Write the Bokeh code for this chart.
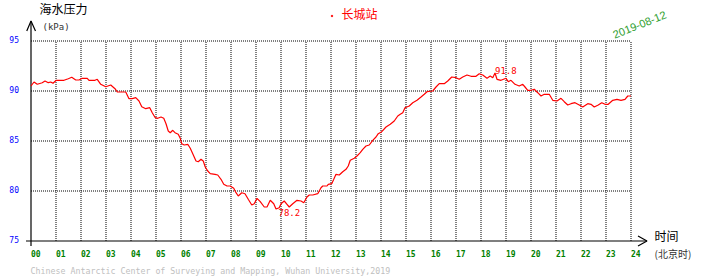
from bokeh.plotting import figure
from bokeh.models import Range1d, Label
from bokeh.core.properties import value
from bokeh.embed import file_html
from bokeh.resources import INLINE

# ---- data ----
hours = [0.0, 0.12, 0.25, 0.45, 0.56, 0.69, 0.79, 0.88, 1.01, 1.32, 1.49, 1.63, 1.79, 1.92,
         2.05, 2.25, 2.32, 2.56, 2.65, 2.79, 2.99, 3.19, 3.36, 3.45, 3.79, 3.92, 4.05, 4.19,
         4.32, 4.43, 4.59, 4.75, 4.85, 4.97, 5.07, 5.2, 5.31, 5.4, 5.49, 5.57, 5.67, 5.76,
         5.89, 5.97, 6.03, 6.13, 6.27, 6.37, 6.47, 6.6, 6.69, 6.8, 6.89, 6.97, 7.07, 7.17,
         7.36, 7.47, 7.6, 7.71, 7.84, 7.97, 8.11, 8.2, 8.29, 8.43, 8.56, 8.69, 8.83, 8.93,
         9.04, 9.17, 9.33, 9.44, 9.57, 9.71, 9.8, 9.93, 10.0, 10.13, 10.24, 10.33, 10.47,
         10.64, 10.8, 10.91, 11.04, 11.13, 11.27, 11.47, 11.6, 11.67, 11.84, 11.89, 12.03,
         12.11, 12.2, 12.33, 12.47, 12.6, 12.69, 12.77, 12.93, 13.04, 13.17, 13.27, 13.4,
         13.53, 13.67, 13.8, 13.89, 14.03, 14.2, 14.37, 14.53, 14.67, 14.77, 14.87, 14.96,
         15.13, 15.27, 15.44, 15.6, 15.73, 15.84, 16.07, 16.2, 16.33, 16.53, 16.67, 16.83,
         17.0, 17.13, 17.27, 17.44, 17.6, 17.8, 17.93, 18.07, 18.24, 18.37, 18.47, 18.56,
         18.64, 18.8, 19.0, 19.09, 19.2, 19.36, 19.53, 19.67, 19.76, 19.87, 20.0, 20.13,
         20.27, 20.4, 20.53, 20.73, 20.87, 21.04, 21.2, 21.33, 21.47, 21.6, 21.76, 21.93,
         22.07, 22.27, 22.4, 22.53, 22.69, 22.83, 22.96, 23.09, 23.27, 23.44, 23.6, 23.76,
         23.87, 24.0]
pressure = [90.5, 90.9, 90.67, 90.83, 91.0, 90.83, 90.9, 90.77, 91.07, 91.07, 91.23, 91.37, 91.1, 91.1,
            91.27, 91.27, 91.07, 91.07, 91.17, 90.67, 90.43, 90.6, 90.23, 89.9, 89.9, 89.23, 89.23, 89.33,
            89.0, 88.43, 88.23, 88.33, 87.83, 87.33, 87.27, 87.4, 87.27, 86.73, 86.0, 85.83, 86.07, 85.83,
            85.67, 85.27, 84.73, 84.6, 84.67, 84.27, 83.73, 83.0, 82.93, 83.17, 83.0, 82.4, 82.0, 81.73,
            81.67, 81.6, 81.17, 80.67, 80.5, 80.5, 80.27, 79.83, 79.5, 79.83, 79.73, 79.17, 78.6, 78.73,
            79.27, 78.93, 78.4, 78.4, 79.07, 78.73, 78.2, 78.33, 78.73, 79.0, 78.67, 78.4, 78.73,
            79.07, 79.0, 78.83, 79.4, 79.6, 79.6, 79.73, 80.33, 80.5, 80.5, 80.67, 80.73,
            81.17, 81.67, 81.6, 81.93, 82.17, 82.5, 83.07, 83.27, 83.5, 83.83, 84.17, 84.5,
            84.6, 85.07, 85.4, 85.73, 85.93, 86.4, 86.67, 87.0, 87.5, 87.67, 87.83, 88.33,
            88.5, 88.83, 89.07, 89.4, 89.67, 89.93, 90.0, 90.4, 90.73, 90.73, 91.0, 91.4,
            91.33, 91.17, 91.4, 91.6, 91.47, 91.47, 91.73, 91.6, 91.27, 91.5, 91.33, 91.8,
            91.17, 91.07, 91.27, 90.93, 91.07, 90.67, 90.5, 90.67, 90.4, 90.07, 90.07, 90.17,
            89.83, 89.5, 89.67, 89.67, 89.07, 89.0, 89.27, 88.93, 88.6, 88.73, 88.83, 88.6,
            88.4, 88.73, 88.67, 88.4, 88.6, 88.83, 88.67, 88.67, 89.07, 89.17, 89.07, 89.17,
            89.5, 89.5]
x_ticks = list(range(0, 25))
x_tick_labels = ["%02d" % h for h in x_ticks]
y_ticks = [75, 80, 85, 90, 95]
y_tick_labels = ["75", "80", "85", "90", "95"]
min_label = "78.2"
max_label = "91.8"

W, H = 710, 278
p = figure(width=W, height=H, output_backend="svg", toolbar_location=None,
           x_range=Range1d(-1.22, 27.18), y_range=Range1d(71.25, 99.05),
           min_border=0, background_fill_color="white", border_fill_color="white")
p.axis.visible = False
p.grid.visible = False
p.outline_line_color = None

MONO = value("DejaVu Sans Mono")

# dotted grid
gy = [v for v in y_ticks if v > 75]
p.segment(x0=[0] * len(gy), x1=[24] * len(gy), y0=gy, y1=gy,
          line_color="black", line_width=1, line_dash="1 1")
gx = [h for h in x_ticks if h > 0]
p.segment(x0=gx, x1=gx, y0=[75] * len(gx), y1=[95] * len(gx),
          line_color="black", line_width=1, line_dash="1 1")

# axes with arrows
p.line([0, 0], [74.5, 97.0], line_color="black", line_width=1.2)
p.line([-0.17, 0, 0.18], [96.0, 97.0, 96.0], line_color="black", line_width=1.2)
p.line([-0.2, 24.64], [75, 75], line_color="black", line_width=1.2)
p.line([24.28, 24.64, 24.28], [75.5, 75, 74.5], line_color="black", line_width=1.2)

# data line
p.line(hours, pressure, line_color="red", line_width=1.2)

# tick labels
p.text(x=x_ticks, y=[73.8] * len(x_ticks), text=x_tick_labels, text_font=MONO,
       text_font_size="8px", text_font_style="bold", text_color="#008000",
       text_align="left", text_baseline="middle")
p.text(x=[-0.48] * len(y_ticks), y=[v + 0.2 for v in y_ticks], text=y_tick_labels,
       text_font=MONO, text_font_size="8px", text_color="#0000ff",
       text_align="right", text_baseline="middle")

# min / max annotations
imin = pressure.index(min(pressure))
imax = pressure.index(max(pressure))
p.text(x=[hours[imin] + 0.1], y=[pressure[imin] + 0.05], text=[min_label], text_font=MONO,
       text_font_size="9px", text_color="red", text_align="left", text_baseline="top")
p.text(x=[hours[imax]], y=[pressure[imax] - 0.05], text=[max_label], text_font=MONO,
       text_font_size="9px", text_color="red", text_align="left", text_baseline="bottom")

def lab(txt, px, py, size, color, font, align="left", angle=0.0):
    p.add_layout(Label(x=px, y=H - py, x_units="screen", y_units="screen", text=txt,
                       text_font_size=size, text_color=color, text_font=font,
                       text_align=align, text_baseline="middle", angle=angle))

lab("海水压力", 39, 8, "12px", "black", "Noto Sans CJK SC")
lab("(kPa)", 42, 26, "9px", "#333333", "DejaVu Sans Mono")
lab("长城站", 341, 13, "12px", "red", "Noto Sans CJK SC")
p.scatter([12.04], [97.5], marker="square", size=1.2, color="red")
lab("2019-08-12", 639, 24, "11px", "#2e9e2e", "Liberation Sans", align="center", angle=0.38)
lab("时间", 654, 235, "12px", "black", "Noto Sans CJK SC")
lab("(北京时)", 654, 253, "10px", "#333333", "Noto Sans CJK SC")
lab("Chinese Antarctic Center of Surveying and Mapping, Wuhan University,2019",
    30, 270, "8.3px", "#c0c0c0", "DejaVu Sans Mono")

open("out.html", "w").write(file_html(p, INLINE))
